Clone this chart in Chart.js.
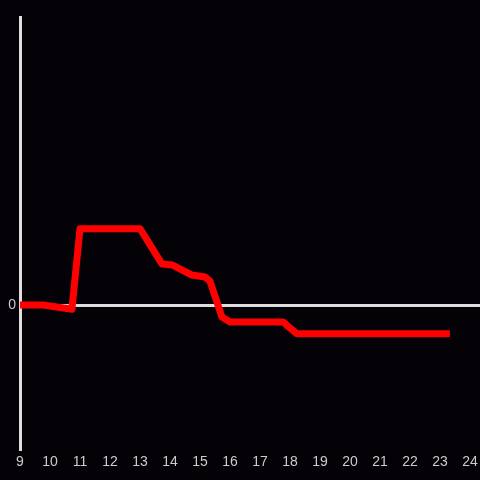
<!DOCTYPE html>
<html>
<head>
<meta charset="utf-8">
<script src="https://cdn.jsdelivr.net/npm/chart.js@4"></script>
<style>
  html, body { margin: 0; padding: 0; background: #040206; }
  #wrap { width: 480px; height: 480px; }
</style>
</head>
<body>
<div id="wrap"><canvas id="chart"></canvas></div>
<script>
// hours of day and the series value at that time
const hours = [8.95, 9.77, 10.73, 11.0, 13.0, 13.73, 14.07, 14.73, 15.17, 15.33, 15.73, 16.0, 17.77, 18.0, 18.23, 23.33];
const values = [0, 0, -0.03, 0.53, 0.53, 0.285, 0.278, 0.208, 0.194, 0.167, -0.083, -0.118, -0.118, -0.16, -0.2, -0.2];
const xTicks = [9, 10, 11, 12, 13, 14, 15, 16, 17, 18, 19, 20, 21, 22, 23, 24];
const yTicks = [0];

const points = hours.map((h, i) => ({ x: h, y: values[i] }));

new Chart(document.getElementById('chart'), {
  type: 'line',
  data: {
    datasets: [{
      data: points,
      borderColor: '#ff0000',
      borderWidth: 7,
      borderJoinStyle: 'round',
      pointRadius: 0,
      tension: 0,
      fill: false
    }]
  },
  options: {
    responsive: true,
    maintainAspectRatio: false,
    animation: false,
    layout: { padding: { top: 17, right: 0, bottom: 0, left: 0 } },
    plugins: { legend: { display: false }, tooltip: { enabled: false } },
    scales: {
      x: {
        type: 'linear',
        min: 9,
        max: 24.333,
        afterBuildTicks: scale => { scale.ticks = xTicks.map(v => ({ value: v })); },
        afterFit: scale => { scale.height = 31; scale.paddingLeft = 0; scale.paddingRight = 0; },
        border: { display: false },
        grid: { display: false, drawTicks: false },
        ticks: { color: '#cccccc', padding: 5, font: { family: 'Liberation Sans', size: 14 } }
      },
      y: {
        min: -1,
        max: 2,
        afterBuildTicks: scale => { scale.ticks = yTicks.map(v => ({ value: v })); },
        afterFit: scale => { scale.width = 20; scale.paddingTop = 0; scale.paddingBottom = 0; },
        border: { display: true, color: '#dddddd', width: 3 },
        grid: { drawTicks: false, color: '#dddddd', lineWidth: 3 },
        ticks: { color: '#cccccc', padding: 4, font: { family: 'Liberation Sans', size: 14 } }
      }
    }
  }
});
</script>
</body>
</html>
